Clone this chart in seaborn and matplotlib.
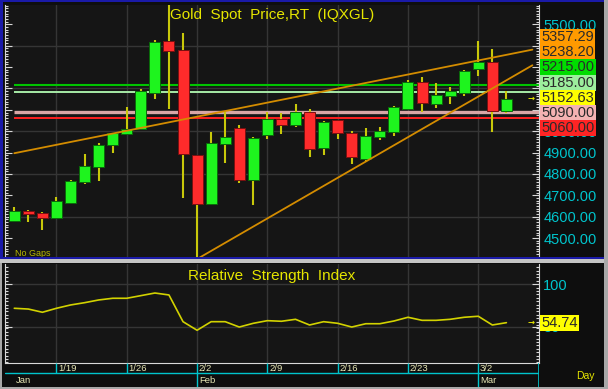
import numpy as np
import pandas as pd
import matplotlib
matplotlib.use("Agg")
import matplotlib.pyplot as plt
import matplotlib.transforms as mtransforms
from matplotlib.patches import Rectangle
from matplotlib.ticker import MultipleLocator
import seaborn as sns

# ---------------- data ----------------
dates = ["2026-01-14", "2026-01-15", "2026-01-16",
         "2026-01-19", "2026-01-20", "2026-01-21", "2026-01-22", "2026-01-23",
         "2026-01-26", "2026-01-27", "2026-01-28", "2026-01-29", "2026-01-30",
         "2026-02-02", "2026-02-03", "2026-02-04", "2026-02-05", "2026-02-06",
         "2026-02-09", "2026-02-10", "2026-02-11", "2026-02-12", "2026-02-13",
         "2026-02-16", "2026-02-17", "2026-02-18", "2026-02-19", "2026-02-20",
         "2026-02-23", "2026-02-24", "2026-02-25", "2026-02-26", "2026-02-27",
         "2026-03-02", "2026-03-03", "2026-03-04"]
opens = [4581, 4627, 4618, 4593, 4666, 4762, 4833, 4934, 4988, 5009,
         5180, 5423, 5380, 4887, 4658, 4939, 5015, 4772, 4984, 5059,
         5028, 5090, 4923, 5051, 4992, 4871, 4973, 4998, 5102, 5229,
         5129, 5165, 5180, 5290, 5322, 5093]
highs = [4647, 4632, 4622, 4694, 4770, 4892, 4943, 4993, 5112, 5196,
         5427, 5595, 5458, 4890, 4996, 5091, 5028, 4974, 5091, 5084,
         5126, 5102, 5049, 5054, 5002, 5014, 5021, 5118, 5240, 5255,
         5224, 5208, 5285, 5423, 5383, 5189]
lows = [4578, 4577, 4538, 4590, 4658, 4753, 4768, 4897, 4985, 5005,
        5151, 5102, 4686, 4402, 4655, 4853, 4758, 4655, 4962, 4987,
        5021, 4878, 4887, 4962, 4845, 4857, 4959, 4978, 5100, 5091,
        5110, 5127, 5165, 5260, 4995, 5084]
closes = [4627, 4613, 4593, 4672, 4767, 4837, 4937, 4990, 5012, 5189,
          5419, 5375, 4893, 4658, 4943, 4973, 4772, 4968, 5057, 5028,
          5088, 4918, 5043, 4990, 4879, 4976, 5002, 5112, 5229, 5131,
          5168, 5188, 5283, 5324, 5095, 5152.63]
rsi = [71.7, 70.8, 67.0, 71.7, 75.6, 78.3, 81.5, 83.5, 83.5, 86.6,
       89.7, 87.4, 55.9, 45.8, 55.9, 55.9, 49.6, 54.0, 57.1, 56.4,
       58.7, 52.0, 55.9, 54.0, 49.6, 53.5, 53.5, 56.7, 61.1, 57.5,
       57.5, 58.7, 61.1, 62.3, 52.0, 54.74]
levels = [5215.00, 5185.00, 5090.00, 5060.00]
trend_upper_idx = [0, 35]
trend_upper_val = [4897.0, 5357.29]
trend_lower_idx = [13, 35]
trend_lower_val = [4402.0, 5238.20]
price_ticks = [4500, 4600, 4700, 4800, 4900, 5000, 5100, 5200, 5300, 5400, 5500]
price_tick_labels = ["4500.00", "4600.00", "4700.00", "4800.00", "4900.00", "5000.00",
                     "", "", "", "", "5500.00"]
rsi_ticks = [50, 100]
title_main = "Gold  Spot  Price,RT  (IQXGL)"
title_rsi = "Relative  Strength  Index"

# ---------------- style ----------------
sns.set_theme(style="dark")
plt.rcParams["font.family"] = ["Liberation Sans", "DejaVu Sans"]

W, H = 608, 389
fig = plt.figure(figsize=(W / 100, H / 100), dpi=100)
FIG_BG = "#0e0e0e"
PANEL_BG = "#151515"
GRID = "#353535"
CYAN = "#00c4cc"
YELLOW = "#e6e600"
TICKC = "#d8d8d8"
fig.patch.set_facecolor(FIG_BG)


def rect(x0, y0, x1, y1):
    return [x0 / W, 1 - y1 / H, (x1 - x0) / W, (y1 - y0) / H]


XL, XR = 5, 539
xlim = ((XL - 14.3) / 14.06, (XR - 14.3) / 14.06)

ax = fig.add_axes(rect(XL, 5, XR, 258))
axr = fig.add_axes(rect(XL, 264, XR, 363))
axd = fig.add_axes(rect(XL, 363, XR, 389))

dt = pd.to_datetime(pd.Series(dates))
idx = np.arange(len(dates))
mondays = idx[dt.dt.dayofweek.values == 0]
week_lbls = [f"{d.month}/{d.day}" for d in dt[mondays]]
month_first = [int(np.where(dt.dt.month.values == m)[0][0]) for m in dt.dt.month.unique()]
month_lbls = [dt[i].strftime("%b") for i in month_first]

# ---------------- main panel ----------------
ax.set_facecolor(PANEL_BG)
ax.set_xlim(*xlim)
ax.set_ylim(4406.9, 5590.4)
for v in mondays:
    ax.axvline(v, color=GRID, lw=1, zorder=0)
for p in price_ticks[1::2]:
    ax.axhline(p, color=GRID, lw=1, zorder=0)

o = np.array(opens, float); c = np.array(closes, float)
up = c >= o
ax.vlines(idx, lows, highs, color="#c8c80a", lw=1.5, zorder=2)
ax.bar(idx[up], (c - o)[up], bottom=o[up], width=0.78, color="#1ef41e",
       edgecolor="#0a6a0a", lw=0.7, zorder=3)
ax.bar(idx[~up], (c - o)[~up], bottom=o[~up], width=0.78, color="#ff2b2b",
       edgecolor="#7a1010", lw=0.7, zorder=3)

lvl_colors = ["#00c400", "#a6eaa6", "#d8a6a6", "#ff2020"]
lvl_lw = [1.5, 1.4, 2.4, 1.4]
for lv, col, lw in zip(levels, lvl_colors, lvl_lw):
    ax.hlines(lv, 0, xlim[1], color=col, lw=lw, zorder=1)

x_end = 36.85
for ti, tv in ((trend_upper_idx, trend_upper_val), (trend_lower_idx, trend_lower_val)):
    k, b = np.polyfit(ti, tv, 1)
    xs = np.array([ti[0], x_end])
    ax.plot(xs, k * xs + b, color="#d48c00", lw=1.3, zorder=4)

ax.text(0.5, 0.96, title_main, transform=ax.transAxes, ha="center", va="center",
        color=YELLOW, fontsize=11)
ax.text(0.0187, 0.016, "No Gaps", transform=ax.transAxes, ha="left", va="center",
        color="#b8b800", fontsize=6.5)
bt = mtransforms.blended_transform_factory(ax.transAxes, ax.transData)
ax.text(0.985, closes[-1], "\u2192", transform=bt, ha="center", va="center",
        color=YELLOW, fontsize=6, family="DejaVu Sans", fontweight="bold")

ax.yaxis.tick_right()
ax.set_yticks(price_ticks)
ax.set_yticklabels(price_tick_labels)
ax.yaxis.set_minor_locator(MultipleLocator(12.5))
ax.tick_params(axis="y", which="both", left=True, right=True, labelleft=False,
               labelright=True, direction="in", color=TICKC, width=0.8)
ax.tick_params(axis="y", which="major", length=5, pad=3, labelcolor=CYAN, labelsize=10.5)
ax.tick_params(axis="y", which="minor", length=2.5)
ax.set_xticks([])
for s in ["top", "bottom"]:
    ax.spines[s].set_visible(False)
for s in ["left", "right"]:
    ax.spines[s].set_color(TICKC)
    ax.spines[s].set_linewidth(0.8)
ax.grid(False)

# price tags on right (stacked around last price)
tags = [(trend_upper_val[-1], "#ff9a00"), (trend_lower_val[-1], "#ff9a00"),
        (levels[0], "#00dc00"), (levels[1], "#9cee9c"), (closes[-1], "#ffff00"),
        (levels[2], "#f4b2b2"), (levels[3], "#ff2424")]
hgt = 15.1
anchor_v = closes[-1]
ypix = {v: ax.transData.transform((0, v))[1] for v, _ in tags}
pos = {anchor_v: ypix[anchor_v] + 0.9}
prev = pos[anchor_v]
for v in sorted([t[0] for t in tags if t[0] > anchor_v]):
    prev = max(ypix[v], prev + hgt); pos[v] = prev
prev = pos[anchor_v]
for v in sorted([t[0] for t in tags if t[0] < anchor_v], reverse=True):
    prev = min(ypix[v], prev - hgt); pos[v] = prev
for v, col in tags:
    fig.text(541.5 / W, pos[v] / H, f"{v:.2f}", ha="left", va="center", fontsize=10.5,
             color="#2a2a2a", bbox=dict(boxstyle="square,pad=0.07", fc=col, ec="none"))

# ---------------- RSI panel ----------------
axr.set_facecolor(PANEL_BG)
axr.set_xlim(*xlim)
axr.set_ylim(7.2, 123.9)
for v in mondays:
    axr.axvline(v, color=GRID, lw=1, zorder=0)
for t in rsi_ticks:
    axr.axhline(t, color=GRID, lw=1, zorder=0)
sns.lineplot(x=idx, y=rsi, ax=axr, color="#d2d200", lw=1.2, zorder=3)
axr.text(0.5, 0.879, title_rsi, transform=axr.transAxes, ha="center", va="center",
         color=YELLOW, fontsize=11)
bt2 = mtransforms.blended_transform_factory(axr.transAxes, axr.transData)
axr.text(0.985, rsi[-1], "\u2192", transform=bt2, ha="center", va="center",
         color=YELLOW, fontsize=6, family="DejaVu Sans", fontweight="bold")
axr.yaxis.tick_right()
axr.set_yticks(rsi_ticks)
axr.set_yticklabels([str(t) for t in rsi_ticks])
axr.yaxis.set_minor_locator(MultipleLocator(4))
axr.tick_params(axis="y", which="both", left=True, right=True, labelleft=False,
                labelright=True, direction="in", color=TICKC, width=0.8)
axr.tick_params(axis="y", which="major", length=5, pad=3, labelcolor=CYAN, labelsize=10.5)
axr.tick_params(axis="y", which="minor", length=2.5)
axr.set_xticks([])
axr.set_xlabel(""); axr.set_ylabel("")
axr.spines["top"].set_visible(False)
for s in ["left", "right", "bottom"]:
    axr.spines[s].set_color(TICKC)
    axr.spines[s].set_linewidth(0.8)
axr.grid(False)
rp = axr.transData.transform((0, rsi[-1]))[1]
fig.text(541.5 / W, rp / H, f"{rsi[-1]:.2f}", ha="left", va="center", fontsize=10.5,
         color="#2a2a2a", bbox=dict(boxstyle="square,pad=0.07", fc="#ffff00", ec="none"))

# ---------------- date axis ----------------
axd.set_facecolor(FIG_BG)
axd.set_xlim(*xlim)
axd.set_ylim(0, 1)
axd.axis("off")
row = 0.615
axd.axhline(row, color=CYAN, lw=1)
axd.vlines(mondays, row, 1, color=CYAN, lw=1)
axd.vlines(month_first[1:], 0, row, color=CYAN, lw=1)
axd.axvline(xlim[1] - 0.02, color=CYAN, lw=1.2)
for v, lab in zip(mondays, week_lbls):
    axd.text(v + 0.12, 0.79, lab, ha="left", va="center", color="#e6e6b4", fontsize=6.8)
for v, lab in zip(month_first, month_lbls):
    axd.text(v + 0.12, 0.31, lab, ha="left", va="center", color="#e6e6b4", fontsize=6.8)
fig.text(585 / W, 1 - 376 / H, "Day", ha="center", va="center", color=YELLOW, fontsize=7.5)

# ---------------- frame ----------------
def frame(x0, y0, x1, y1, col):
    fig.add_artist(Rectangle((x0 / W, 1 - y1 / H), (x1 - x0) / W, (y1 - y0) / H,
                             transform=fig.transFigure, fc=col, ec="none", zorder=10))

frame(0, 0, 604, 2, "#1a1aa8")
frame(0, 0, 3, 259, "#1a1aa8")
frame(0, 257, 604, 259, "#1a1aa8")
frame(0, 259, 608, 263, "#c4c4c4")
frame(604, 0, 608, 389, "#a8a8a8")
frame(0, 263, 2, 389, "#a8a8a8")
frame(0, 387, 608, 389, "#a8a8a8")

fig.savefig("out.png", dpi=100, facecolor=fig.get_facecolor())
